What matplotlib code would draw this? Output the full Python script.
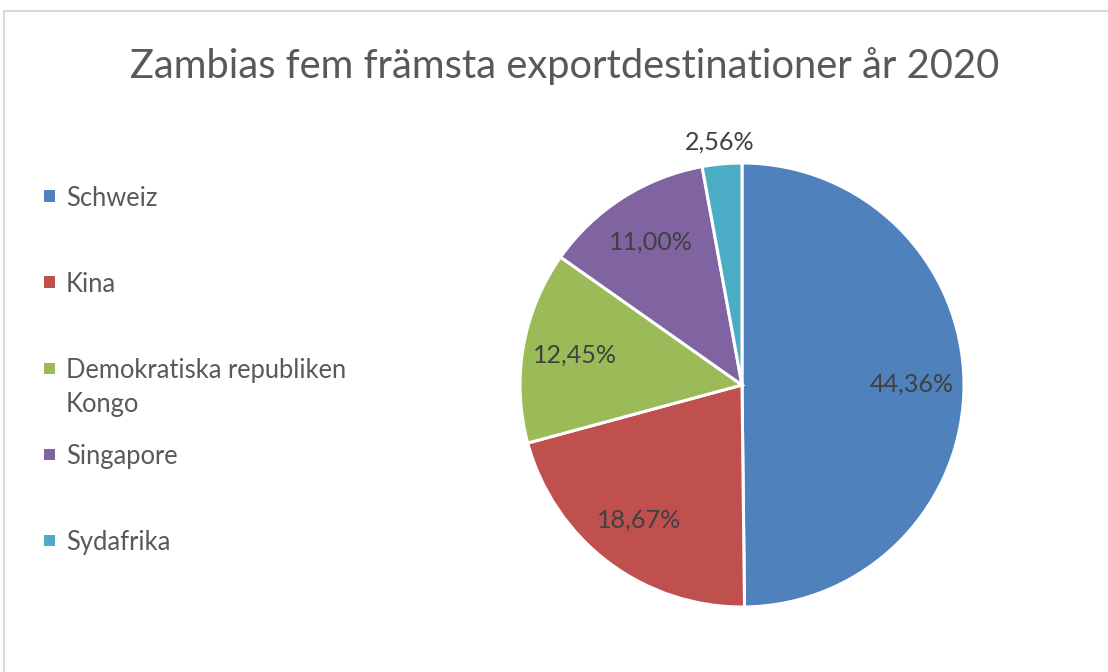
import matplotlib
matplotlib.use("Agg")
import matplotlib.pyplot as plt
from matplotlib.patches import Rectangle
import numpy as np

# ---- data ----
countries = ["Schweiz", "Kina", "Demokratiska republiken\nKongo", "Singapore", "Sydafrika"]
shares = [44.36, 18.67, 12.45, 11.00, 2.56]
colors = ["#4F81BD", "#C0504D", "#9BBB59", "#8064A2", "#4BACC6"]
title = "Zambias fem främsta exportdestinationer år 2020"

W, H = 1108, 672
FONT = ["Lato", "DejaVu Sans"]
TXT = "#595959"
LBL = "#404040"

fig = plt.figure(figsize=(W / 100, H / 100), dpi=100)
fig.patch.set_facecolor("white")
renderer = fig.canvas.get_renderer()


def fit(t, target_px):
    w = t.get_window_extent(renderer).width
    t.set_fontsize(t.get_fontsize() * target_px / w)


def px(x, y):
    return x / W, 1 - y / H


# chart frame
fig.add_artist(Rectangle(px(4, 672 + 5), (W + 10) / W, (672 + 5 - 11) / H,
                         transform=fig.transFigure, fill=False,
                         edgecolor="#d9d9d9", linewidth=1.5))

# title
t = fig.text(*px(565, 66), title, ha="center", va="center", color=TXT,
             family=FONT, fontsize=24)
fit(t, 870)

# pie
cx, cy, r = 742, 385, 222
ax = fig.add_axes([(cx - r) / W, 1 - (cy + r) / H, 2 * r / W, 2 * r / H])
wedges, _ = ax.pie(shares, colors=colors, startangle=90, counterclock=False,
                   radius=1.0, wedgeprops=dict(edgecolor="white", linewidth=2.2))
ax.set_xlim(-1, 1)
ax.set_ylim(-1, 1)
ax.set_aspect("auto")
ax.axis("off")

total = sum(shares)
lbl_size = None
for w, v in zip(wedges, shares):
    ang = np.deg2rad((w.theta1 + w.theta2) / 2)
    d = 0.765 if v / total > 0.05 else 1.1
    s = f"{v:.2f}".replace(".", ",") + "%"
    tt = ax.text(d * np.cos(ang), d * np.sin(ang), s, ha="center", va="center",
                 color=LBL, family=FONT, fontsize=14)
    if lbl_size is None:
        fit(tt, 84)
        lbl_size = tt.get_fontsize()
    else:
        tt.set_fontsize(lbl_size)

# legend
y0, step = 196, 86
probe = fig.text(0, 0, "Demokratiska republiken", family=FONT, fontsize=14)
fit(probe, 282)
leg_size = probe.get_fontsize()
probe.remove()

for i, (name, c) in enumerate(zip(countries, colors)):
    y = y0 + i * step
    fig.add_artist(Rectangle(px(44, y + 5.5), 11 / W, 11 / H,
                             transform=fig.transFigure, facecolor=c,
                             edgecolor="none"))
    lines = name.split("\n")
    for j, line in enumerate(lines):
        fig.text(*px(66, y + j * 34), line, ha="left", va="center_baseline",
                 color=TXT, family=FONT, fontsize=leg_size)

fig.savefig("out.png", dpi=100, facecolor="white")
